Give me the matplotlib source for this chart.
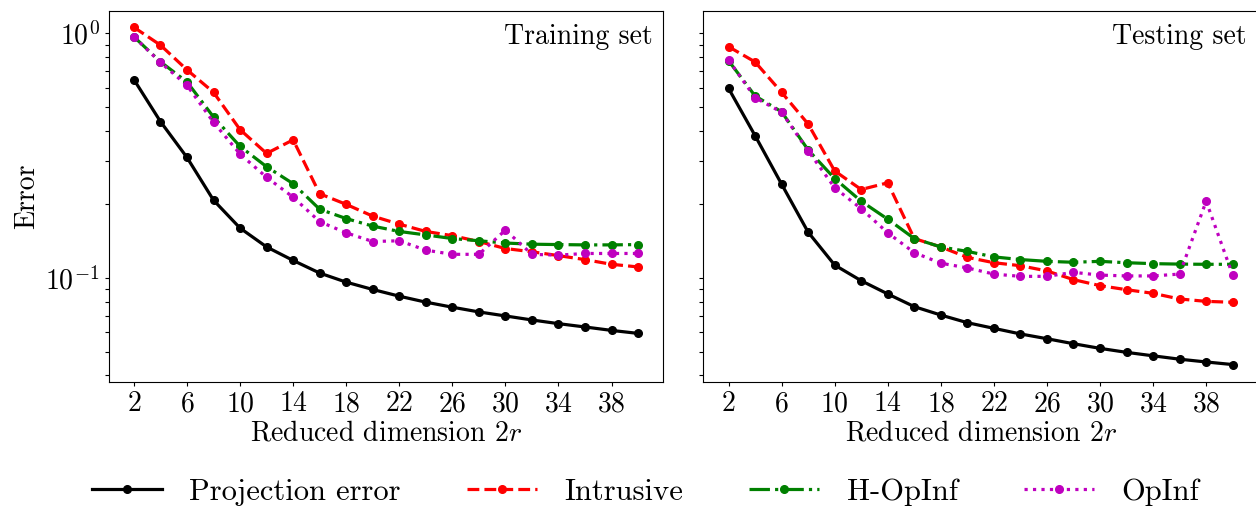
import numpy as np
import matplotlib
matplotlib.use("Agg")
import matplotlib.pyplot as plt
from matplotlib.ticker import NullFormatter

plt.rcParams['font.family'] = 'serif'
plt.rcParams['font.serif'] = ['cmr10']
plt.rcParams['mathtext.fontset'] = 'cm'
plt.rcParams['axes.formatter.use_mathtext'] = True

dims = [2, 4, 6, 8, 10, 12, 14, 16, 18, 20, 22, 24, 26, 28, 30, 32, 34, 36, 38, 40]
xticks = [2, 6, 10, 14, 18, 22, 26, 30, 34, 38]

train_proj = [0.647, 0.436, 0.311, 0.208, 0.160, 0.134, 0.118, 0.1048, 0.0962, 0.0898,
              0.0843, 0.0797, 0.0760, 0.0727, 0.0700, 0.0674, 0.0651, 0.0631, 0.0611, 0.0594]
train_intr = [1.058, 0.895, 0.709, 0.574, 0.404, 0.323, 0.367, 0.221, 0.200, 0.179,
              0.166, 0.155, 0.149, 0.141, 0.132, 0.128, 0.1235, 0.1189, 0.1138, 0.111]
train_hop = [0.968, 0.765, 0.633, 0.455, 0.345, 0.285, 0.243, 0.191, 0.175, 0.163,
             0.155, 0.150, 0.145, 0.142, 0.139, 0.1375, 0.137, 0.1366, 0.1366, 0.137]
train_op = [0.968, 0.760, 0.613, 0.433, 0.321, 0.258, 0.214, 0.170, 0.153, 0.141,
            0.142, 0.130, 0.125, 0.125, 0.157, 0.125, 0.124, 0.126, 0.126, 0.126]

test_proj = [0.596, 0.382, 0.242, 0.154, 0.113, 0.0975, 0.0861, 0.0764, 0.0706, 0.0657,
             0.0623, 0.0591, 0.0565, 0.0539, 0.0516, 0.0497, 0.0481, 0.0466, 0.0454, 0.0443]
test_intr = [0.882, 0.764, 0.574, 0.426, 0.274, 0.230, 0.245, 0.145, 0.134, 0.1215,
             0.1155, 0.1123, 0.1069, 0.0985, 0.0931, 0.0896, 0.0866, 0.0821, 0.0803, 0.0796]
test_hop = [0.773, 0.555, 0.478, 0.334, 0.255, 0.206, 0.174, 0.145, 0.134, 0.1285,
            0.122, 0.119, 0.117, 0.116, 0.117, 0.1155, 0.1145, 0.114, 0.1138, 0.1138]
test_op = [0.778, 0.546, 0.476, 0.331, 0.234, 0.192, 0.153, 0.127, 0.115, 0.110,
           0.1038, 0.1016, 0.1016, 0.1055, 0.1028, 0.102, 0.102, 0.1038, 0.206, 0.1028]

labels = ["Projection error", "Intrusive", "H-OpInf", "OpInf"]
styles = [dict(color='k', ls='-'), dict(color='r', ls='--'),
          dict(color='g', ls='-.'), dict(color='m', ls=':')]

W, H = 1256, 508
fig = plt.figure(figsize=(W / 100, H / 100), dpi=100)
ax1 = fig.add_axes([108.7 / W, 1 - 382 / H, 554.6 / W, 371.3 / H])
ax2 = fig.add_axes([703.3 / W, 1 - 382 / H, 554.6 / W, 371.3 / H], sharey=ax1)

panels = [(ax1, [train_proj, train_intr, train_hop, train_op], "Training set"),
          (ax2, [test_proj, test_intr, test_hop, test_op], "Testing set")]
handles = []
for ax, series, title in panels:
    hs = []
    for vals, lab, st in zip(series, labels, styles):
        h, = ax.plot(dims, vals, marker='o', ms=5.5, lw=2.3, label=lab, **st)
        hs.append(h)
    handles = hs
    ax.set_yscale('log')
    ax.set_xticks(xticks)
    ax.tick_params(axis='both', which='major', labelsize=20, length=3, width=0.8)
    ax.tick_params(axis='both', which='minor', length=3, width=0.8)
    ax.set_xlabel(r"Reduced dimension $2r$", fontsize=20, labelpad=2)
    ax.text(0.98, 0.965, title, transform=ax.transAxes, ha='right', va='top', fontsize=20)

ax1.set_ylim(0.0376, 1.237)
ax1.set_ylabel("Error", fontsize=20)
plt.setp(ax2.get_yticklabels(), visible=False)
ax2.yaxis.set_minor_formatter(NullFormatter())

fig.legend(handles, labels, loc='center', ncol=4, bbox_to_anchor=(645.5 / W, 1 - 492 / H),
           frameon=False, fontsize=22, handlelength=2.3, handletextpad=0.9,
           columnspacing=2.15, numpoints=1)

fig.savefig("out.png", dpi=100)
